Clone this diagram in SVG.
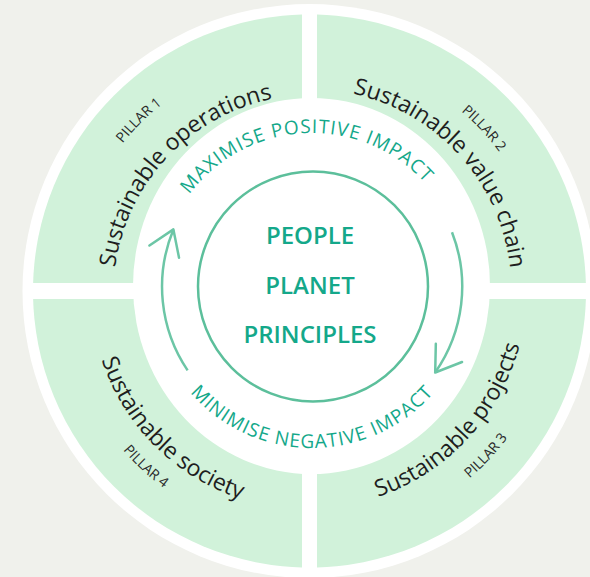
<svg xmlns="http://www.w3.org/2000/svg" xmlns:xlink="http://www.w3.org/1999/xlink" width="590" height="577" viewBox="0 0 590 577">
  <style>
    .bg { fill: #f0f1ec; }
    .band { fill: #d1f2da; }
    .white { fill: #ffffff; }
    .core { fill: #ffffff; stroke: #5cbf9b; stroke-width: 2.5; }
    .cycle { fill: none; stroke: #6cc6a6; stroke-width: 2.5; }
    .head { fill: none; stroke: #6cc6a6; stroke-width: 2.5; stroke-linecap: round; stroke-linejoin: round; }
    .pillar { font-family: "Open Sans", "Liberation Sans", sans-serif; font-size: 23px; fill: #1e1e1e; }
    .plabel { font-family: "Open Sans", "Liberation Sans", sans-serif; font-size: 14px; fill: #2a2a2a; }
    .impact { font-family: "Open Sans", "Liberation Sans", sans-serif; font-size: 19px; fill: #14a88a; letter-spacing: 1px; }
    .centre { font-family: "Open Sans", "Liberation Sans", sans-serif; font-size: 24px; font-weight: 600; fill: #14a88a; }
  </style>
  <defs>
    <clipPath id="cq1"><rect x="0" y="0" width="302" height="283"/></clipPath>
    <clipPath id="cq2"><rect x="317" y="0" width="273" height="283"/></clipPath>
    <clipPath id="cq3"><rect x="317" y="299" width="273" height="278"/></clipPath>
    <clipPath id="cq4"><rect x="0" y="299" width="302" height="278"/></clipPath>
    <marker id="chev" markerUnits="userSpaceOnUse" viewBox="-30 -20 34 40" markerWidth="34" markerHeight="40" refX="0" refY="0" orient="auto">
      <path class="head" d="M-24,-16 L0,0 L-24,16"/>
    </marker>
    <path id="p1" d="M173.8,436.5 A199,199 0 0 1 445.2,145.5"/>
    <path id="p2" d="M174.3,140.9 A202,202 0 0 1 444.7,441.1"/>
    <path id="p3" d="M159.5,451.9 A220,220 0 0 0 459.5,130.1"/>
    <path id="p4" d="M154.6,136.1 A219,219 0 0 0 464.4,445.9"/>
    <path id="l1" d="M141.2,459.3 A238,238 0 0 1 477.8,122.7"/>
    <path id="l2" d="M144.5,114.1 A242,242 0 0 1 474.5,467.9"/>
    <path id="l3" d="M141.0,471.6 A247,247 0 0 0 478.0,110.4"/>
    <path id="l4" d="M130.3,123.9 A245,245 0 0 0 488.7,458.1"/>
    <path id="top" d="M159,286 A153,153 0 0 1 465,286"/>
    <path id="bot" d="M150,286 A162,162 0 0 0 474,286"/>
  </defs>

  <rect class="bg" x="0" y="0" width="590" height="577"/>
  <circle class="white" cx="309.5" cy="291" r="287"/>

  <g id="pillar1">
    <circle class="band" cx="309.5" cy="291" r="276.5" clip-path="url(#cq1)"/>
  </g>
  <g id="pillar2">
    <circle class="band" cx="309.5" cy="291" r="276.5" clip-path="url(#cq2)"/>
  </g>
  <g id="pillar3">
    <circle class="band" cx="309.5" cy="291" r="276.5" clip-path="url(#cq3)"/>
  </g>
  <g id="pillar4">
    <circle class="band" cx="309.5" cy="291" r="276.5" clip-path="url(#cq4)"/>
  </g>

  <ellipse class="white" cx="311.5" cy="286" rx="178.5" ry="188"/>

  <g id="pillar1-text">
    <text class="pillar"><textPath href="#p1" startOffset="50%" text-anchor="middle">Sustainable operations</textPath></text>
    <text class="plabel"><textPath href="#l1" startOffset="50%" text-anchor="middle">PILLAR 1</textPath></text>
  </g>
  <g id="pillar2-text">
    <text class="pillar"><textPath href="#p2" startOffset="50%" text-anchor="middle">Sustainable value chain</textPath></text>
    <text class="plabel"><textPath href="#l2" startOffset="50%" text-anchor="middle">PILLAR 2</textPath></text>
  </g>
  <g id="pillar3-text">
    <text class="pillar"><textPath href="#p3" startOffset="50%" text-anchor="middle">Sustainable projects</textPath></text>
    <text class="plabel"><textPath href="#l3" startOffset="50%" text-anchor="middle">PILLAR 3</textPath></text>
  </g>
  <g id="pillar4-text">
    <text class="pillar"><textPath href="#p4" startOffset="50%" text-anchor="middle">Sustainable society</textPath></text>
    <text class="plabel"><textPath href="#l4" startOffset="50%" text-anchor="middle">PILLAR 4</textPath></text>
  </g>

  <g id="core">
    <circle class="core" cx="313" cy="286.5" r="115"/>
    <text class="centre" x="310" y="244" text-anchor="middle">PEOPLE</text>
    <text class="centre" x="310" y="294" text-anchor="middle">PLANET</text>
    <text class="centre" x="310" y="343" text-anchor="middle">PRINCIPLES</text>
  </g>

  <g id="maximise">
    <text class="impact"><textPath href="#top" startOffset="233" text-anchor="middle">MAXIMISE POSITIVE IMPACT</textPath></text>
  </g>
  <g id="minimise">
    <text class="impact"><textPath href="#bot" startOffset="50%" text-anchor="middle">MINIMISE NEGATIVE IMPACT</textPath></text>
  </g>

  <g id="connectors">
    <path class="cycle" marker-end="url(#chev)" d="M187.6,370.4 A150,150 0 0 1 173.4,229.4"/>
    <path class="cycle" marker-end="url(#chev)" d="M452.0,232.2 A150,150 0 0 1 435.2,372.5"/>
  </g>
</svg>
